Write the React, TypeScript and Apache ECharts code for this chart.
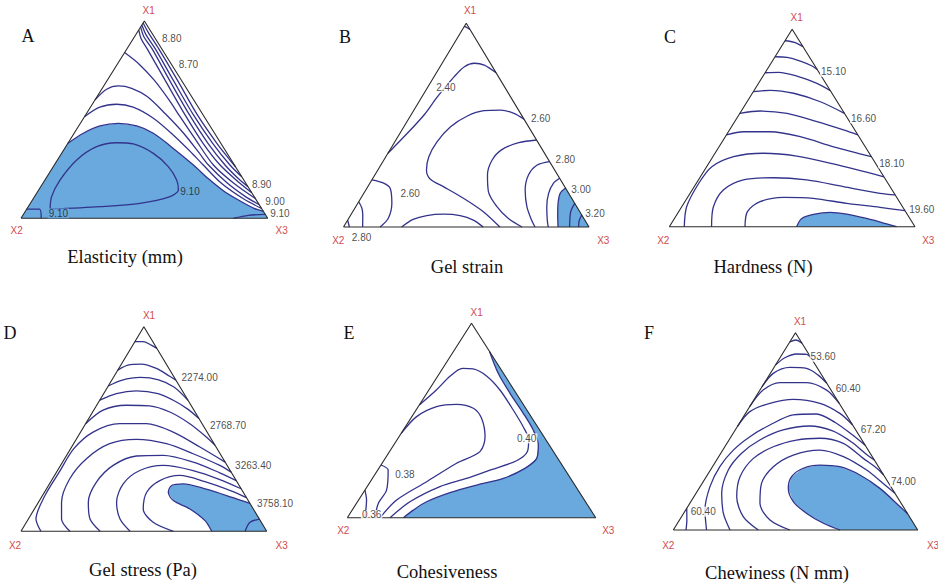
import React, { useEffect, useRef } from "react";
import * as echarts from "echarts";

// Every point is a mixture composition [X1 %, X3 %]; X2 = 100 - X1 - X3.
type P = [number, number];
type Lab = [string, number, number, number?]; // text, X1, X3, on blue (1)

const LETTERS = ["A", "B", "C", "D", "E", "F"];
const TITLES = ["Elasticity (mm)", "Gel strain", "Hardness (N)", "Gel stress (Pa)", "Cohesiveness", "Chewiness (N mm)"];
const VERTEX_NAMES = ["X1", "X2", "X3"];
const TRIANGLE: P[] = [[0, 0], [0, 100], [100, 0], [0, 0]];

// ---------- A: Elasticity ----------
const A_lines: P[][] = [
  [[99, 0], [94, 4.7], [86, 12.8], [70, 28.4], [52, 45.7], [38, 60.4], [30, 69.4], [26, 74]],
  [[98, 0], [93, 4.2], [86, 11.4], [70, 26.7], [52, 44.1], [38, 58.7], [27, 71.2], [21, 79]],
  [[97, 0], [92, 3.8], [86, 10.1], [70, 25.2], [52, 42.5], [38, 56.8], [27, 69.2], [20, 78.2], [16, 84]],
  [[95.5, 0], [91, 3.2], [86, 8.1], [70, 23.4], [52, 40.7], [38, 54.8], [27, 67.2], [18, 79.5], [13, 87]],
  [[84, 0], [78, 9], [70, 19], [60, 30], [52, 38.2], [40, 50.7], [27, 64.5], [18, 77], [10, 90]],
  [[60, 0], [65.4, 2], [67.1, 5.9], [65.9, 11.9], [61.7, 20.3], [53, 32], [43, 44.5], [33, 55.8], [27, 62.5], [18, 74.5], [11, 85.5], [7, 93]],
  [[51.5, 0], [56.3, 3.8], [57.8, 9.9], [56.3, 17.3], [50.7, 28.3], [42.2, 40.6], [33, 52.8], [27, 60.4], [18, 72], [10, 85], [5, 95]],
  [[4.6, 9.5], [5.9, 29.1], [7.6, 44.4], [11, 54.9], [14.4, 56.6], [19.4, 53.4], [26.2, 46.6], [32.9, 37.2], [37.7, 26.7], [38.3, 19.6], [36.3, 12.5], [29.6, 7.8], [19.4, 6.1], [11, 6.9], [4.6, 9.5]],
  [[4.6, 0], [4.6, 5.15], [0, 8.2]],
  [[0, 86.1], [1.5, 91.4], [2, 98]],
];
const A_fill: P[] = [[38, 0], [43.1, 3.7], [46.8, 8.6], [48.1, 15.4], [46.8, 23.5], [43.1, 32.1], [36.3, 42.7], [27, 56.4], [20, 66], [14, 75], [9, 84], [5, 92], [3.5, 96.5]];
const A_fillClose: P[] = [[0, 100], [0, 0]];
const A_labels: Lab[] = [["8.80", 91.2, 15.5], ["8.70", 77.7, 29.0], ["8.90", 16.9, 89.1], ["9.00", 8.4, 98.75], ["9.10", 2.5, 103.7], ["9.10", 13.5, 61.75, 1], ["9.10", 2.5, 13.9, 1]];

// ---------- B: Gel strain ----------
const B_lines: P[][] = [
  [[98.5, 0], [97.8, 1.5], [97, 3]],
  [[36.2, 0], [46.0, 3.0], [55.0, 5.3], [64.0, 6.3], [73.8, 8.2], [78.7, 9.9], [80.4, 13.1], [79.5, 17.6], [75.7, 24.3]],
  [[52.9, 47.1], [55.8, 41.5], [57.4, 35.4], [57.1, 28.7], [54.5, 23.2], [49.2, 19.0], [41.9, 17.2], [34.5, 17.5], [28.0, 19.8], [23.4, 23.7], [19.8, 30.8], [14.1, 41.8], [7.5, 53.2], [0, 63.7]],
  [[42.7, 57.3], [41.4, 50.7], [38.1, 45.6], [32.9, 44.1], [25.5, 45.9], [17.3, 50.4], [10.0, 57.5], [4.3, 64.9], [0, 72.7]],
  [[32.1, 67.9], [30.4, 63.7], [25.5, 62.6], [18.2, 64.9], [10.0, 69.7], [3.4, 74.9], [0, 78.0]],
  [[23.9, 76.1], [21.5, 74.8], [16.5, 75.3], [10.0, 77.8], [3.4, 81.3], [0, 83.4]],
  [[11.6, 88.4], [7.5, 88.8], [0, 92.1]],
  [[5.9, 94.1], [2.6, 94.6], [0, 95.8]],
  [[23.1, 0], [21.5, 5.6], [19.0, 9.5], [11.6, 13.9], [4.3, 16.1], [0, 14.9]],
  [[12.4, 0], [9.2, 2.9], [5.9, 4.9], [0, 7.8]],
  [[3.4, 0], [0, 2.4]],
  [[0, 23.7], [3.7, 26.5], [5.6, 31.1], [6.3, 37.5], [5.6, 44.7], [3.4, 51.2], [0, 56.9]],
];
const B_fill: P[] = [[19.1, 80.9], [16.5, 80.0], [11.6, 81.6], [5.9, 84.3], [0, 87.4]];
const B_fillClose: P[] = [[0, 100]];
const B_labels: Lab[] = [["2.40", 68.6, 7.4], ["2.60", 53.4, 53.6], ["2.80", 32.9, 73.9], ["3.00", 18.5, 87.5], ["3.20", 6.7, 99.1], ["2.60", 16.5, 18.9], ["2.80", -5.1, 9.9]];

// ---------- C: Hardness ----------
const C_lines: P[][] = [
  [[94.2, 0], [93.4, 4.2], [91.2, 8.8]],
  [[86.1, 0], [85.8, 5.0], [83.9, 11.4], [81.4, 17.4], [79.7, 20.3]],
  [[78.0, 0], [78.2, 5.4], [76.3, 13.8], [72.6, 23.8], [68.9, 31.1]],
  [[68.4, 0], [69.1, 6.6], [67.6, 16.8], [63.3, 29.8], [57.4, 42.6]],
  [[57.4, 0], [58.6, 7.7], [57.4, 19.2], [53.2, 33.5], [49.0, 46.4], [46.5, 53.5]],
  [[46.5, 0], [48.1, 6.2], [48.1, 17.0], [45.6, 30.5], [40.5, 46.6], [35.5, 64.5]],
  [[0, 6.1], [10.1, 2.0], [22.0, 1.0], [30.4, 2.1], [35.5, 8.4], [37.2, 19.7], [35.8, 34.0], [31.8, 50.9], [25.3, 74.7]],
  [[0, 17.2], [10.1, 12.9], [18.6, 12.7], [23.7, 18.3], [24.8, 30.0], [23.7, 44.1], [20.3, 60.7], [16.9, 77.3], [16.1, 83.9]],
  [[0, 30.8], [7.6, 28.0], [12.7, 30.6], [14.9, 39.0], [14.4, 51.4], [11.8, 66.3], [9.8, 80.9], [8.1, 91.9]],
];
const C_fill: P[] = [[0, 51.8], [4.2, 51.8], [6.3, 55.5], [7.3, 61.8], [6.4, 69.0], [4.2, 78.2], [1.4, 87.8], [0, 92.5]];
const C_fillClose: P[] = [];
const C_labels: Lab[] = [["15.10", 78.5, 27.6], ["16.60", 54.9, 51.6], ["18.10", 32.1, 74.5], ["19.60", 8.5, 98.5]];

// ---------- D: Gel stress ----------
const D_lines: P[][] = [
  [[92.7, 0], [92.7, 3.3], [91.0, 7.5], [89.4, 10.6]],
  [[78.8, 0], [81.2, 2.9], [81.7, 8.1], [79.6, 15.3], [75.8, 22.6], [73.9, 26.1]],
  [[71, 0], [73.8, 4], [75.2, 11], [74, 19], [70.5, 27], [64, 36]],
  [[64.1, 0], [67.3, 5.2], [68.6, 12.6], [67.3, 22.1], [63.7, 30.7], [59.6, 38.2], [55.1, 44.9]],
  [[52.6, 0], [59.2, 3.8], [61.6, 12.1], [61.3, 21.7], [58.3, 31.4], [52.6, 42.4], [46.1, 52.4], [42.0, 58.0]],
  [[0, 8.1], [6.0, 3.1], [17.5, 1.0], [28.9, 1.1], [40.4, 1.3], [48.5, 5.1], [52.6, 13.9], [52.6, 24.7], [48.5, 37.7], [41.2, 52.2], [33.8, 66.2]],
  [[0, 19.9], [6.0, 13.5], [14.2, 9.4], [25.7, 7.0], [35.5, 8.9], [42.8, 14.7], [44.9, 24.5], [42.8, 37.8], [37.9, 51.1], [32.2, 64.8], [28.9, 71.1]],
  [[0, 32.2], [6.0, 25.1], [14.2, 20.3], [24.0, 18.7], [32.2, 21.4], [36.8, 28.6], [37.1, 39.3], [33.8, 53.2], [28.6, 66.6], [24.8, 75.2]],
  [[0, 44.4], [6.0, 37.3], [14.2, 31.8], [23.2, 30.0], [29.7, 33.5], [32.2, 41.8], [29.7, 55.2], [25.3, 68.3], [20.8, 79.2]],
  [[0, 62.0], [4.4, 51.6], [10.9, 44.3], [19.1, 41.6], [24.8, 44.1], [27.3, 51.0], [24.3, 62.7], [19.8, 75.6], [16.5, 83.5]],
  [[0, 91.2], [4.4, 91.0], [6.0, 94.0]],
];
const D_fill: P[] = [[13.6, 86.4], [16.6, 77.6], [20.6, 65.1], [23.2, 54.4], [22.4, 50.1], [19.1, 50.4], [15.0, 54.5], [10.9, 63.3], [5.2, 72.3], [0, 77.6]];
const D_fillClose: P[] = [[0, 100]];
const D_labels: Lab[] = [["2274.00", 75.0, 35.2], ["2768.70", 51.5, 58.5], ["3263.40", 32.2, 78.4], ["3758.10", 13.4, 96.7]];

// ---------- E: Cohesiveness ----------
const E_lines: P[][] = [
  [[58.0, 0], [65.7, 3], [72.9, 5], [76.8, 8], [76.5, 12.4], [72.9, 19.6], [65.7, 28.6], [55.4, 39.1], [46.8, 47.4], [40.0, 53.0], [34.0, 55.5], [29.3, 53.5], [24.5, 45.2], [20.2, 37.9], [16.0, 29.3], [8.2, 21.1], [0, 17.2]],
  [[43.4, 0], [52.0, 1.9], [57.1, 7.4], [58.3, 14.8], [56.3, 22.6], [51.1, 28.5], [41.7, 34.6], [34.0, 36.4], [28.0, 30.0], [18.5, 22.7], [9.1, 15.3], [0, 13.2]],
  [[27.1, 0], [24.5, 4.2], [14.2, 8.7], [7.4, 8.8], [0, 11.1]],
  [[14.2, 0], [9.1, 3.2], [0, 7.1]],
];
const E_fill: P[] = [[85.4, 14.6], [74.3, 23.6], [64.0, 33.5], [53.7, 44.0], [45.1, 52.3], [37.4, 58.2], [30.5, 61.0], [25.4, 58.8], [20.2, 52.7], [16.8, 43.7], [12.9, 34.9], [8.2, 27.8], [3.9, 24.6], [0, 22.6]];
const E_fillClose: P[] = [[0, 100]];
const E_labels: Lab[] = [["0.40", 40.8, 51.8], ["0.38", 22.0, 12.2], ["0.36", 1.4, 9.1]];

// ---------- F: Chewiness ----------
const F_lines: P[][] = [
  [[95.4, 0], [96.3, 2.0], [94.6, 5.4]],
  [[83.6, 0], [87.3, 2.0], [89.2, 5.8], [89.0, 10.0], [87.0, 13.0]],
  [[72.6, 0], [79.4, 1.2], [82.4, 6.5], [81.9, 13.6], [78.5, 20.0], [74.3, 25.7]],
  [[62.5, 0], [70.9, 1.3], [74.7, 6.3], [74.7, 17.2], [70.9, 27.3], [64.2, 35.8]],
  [[52.4, 0], [60.0, 1.3], [64.2, 7.4], [66.2, 16.0], [64.2, 27.9], [59.1, 38.6], [53.2, 46.8]],
  [[0, 13.6], [10.1, 7.9], [22.0, 4.0], [32.1, 3.0], [40.5, 4.3], [47.3, 7.7], [53.2, 12.9], [58.3, 19.9], [58.8, 29.2], [54.5, 39.0], [48.5, 48.7], [43, 57]],
  [[0, 23.2], [8.4, 16.3], [18.6, 10.5], [30.4, 7.3], [38.9, 8.5], [45.6, 12.6], [50.7, 19.6], [52.7, 29.5], [50.2, 40.1], [44.5, 50.8], [38.8, 59.2], [35.5, 64.5]],
  [[0, 34.8], [6.8, 25.2], [16.9, 17.5], [27.0, 13.8], [36.3, 14.6], [42.2, 19.8], [45.6, 27.6], [46.5, 36.7], [43.9, 47.6], [36.3, 59.6], [31.3, 67.6], [27.9, 72.1]],
  [[0, 47.7], [5.1, 37.0], [13.5, 28.7], [23.6, 24.3], [32.1, 24.9], [38.0, 30.1], [40.5, 39.7], [37.2, 51.0], [30.4, 63.9], [23.6, 74.1], [18.6, 81.4]],
  [[0, 5.2], [5.1, 3.0], [11.0, 0]],
];
const F_fill: P[] = [[0, 68.2], [3.4, 59.7], [8.4, 50.4], [14.4, 41.9], [21.1, 36.5], [27.0, 34.9], [31.3, 37.5], [32.9, 43.6], [32.1, 52.1], [27.9, 62.4], [21.1, 74.0], [11.8, 86.9], [8.4, 91.6]];
const F_fillClose: P[] = [[0, 100]];
const F_labels: Lab[] = [["53.60", 87.8, 17.4], ["60.40", 71.5, 35.8], ["67.20", 50.7, 56.5], ["74.00", 24.5, 81.9], ["60.40", 9.3, 7.6]];

const PANEL_DATA = [
  { lines: A_lines, fill: A_fill, close: A_fillClose, labels: A_labels },
  { lines: B_lines, fill: B_fill, close: B_fillClose, labels: B_labels },
  { lines: C_lines, fill: C_fill, close: C_fillClose, labels: C_labels },
  { lines: D_lines, fill: D_fill, close: D_fillClose, labels: D_labels },
  { lines: E_lines, fill: E_fill, close: E_fillClose, labels: E_labels },
  { lines: F_lines, fill: F_fill, close: F_fillClose, labels: F_labels },
];

// Layout (pixels): triangle bounding boxes and annotation positions
const LAYOUT = [
  { grid: { left: 21, top: 21, width: 246.7, height: 197.3 }, letter: [28, 36], title: [125, 257], vertex: [[148.7, 10], [16.7, 230], [281.7, 230]] },
  { grid: { left: 343.5, top: 23.3, width: 245.5, height: 203.7 }, letter: [345, 37], title: [467, 267], vertex: [[470, 10.7], [338.3, 240.7], [603.3, 240.7]] },
  { grid: { left: 669.3, top: 29.3, width: 245.7, height: 197.4 }, letter: [670, 37], title: [763, 267], vertex: [[796.7, 17.3], [663.3, 240], [928.3, 240]] },
  { grid: { left: 21, top: 326.7, width: 245.7, height: 204.6 }, letter: [10, 333], title: [143, 570], vertex: [[149, 315], [15, 545], [281.7, 545]] },
  { grid: { left: 347.3, top: 323.3, width: 248.4, height: 194.4 }, letter: [349, 333], title: [447, 572], vertex: [[476.7, 312.7], [343.3, 530], [608.3, 530]] },
  { grid: { left: 673.3, top: 332.7, width: 244.4, height: 197.3 }, letter: [649, 333], title: [777, 573], vertex: [[800, 321.7], [668.3, 545], [933, 545]] },
];

const BLUE = "#69a9dd";
const LINE = "#33338c";

const toUV = (p: P): [number, number] => [p[1] / 100 + p[0] / 200, p[0] / 100];

function buildOption() {
  const grid: any[] = [];
  const xAxis: any[] = [];
  const yAxis: any[] = [];
  const series: any[] = [];
  const texts: any[] = [];

  PANEL_DATA.forEach((pd, i) => {
    const lay = LAYOUT[i];
    grid.push({ ...lay.grid, containLabel: false, show: false });
    xAxis.push({ type: "value", gridIndex: i, min: 0, max: 1, show: false });
    yAxis.push({ type: "value", gridIndex: i, min: 0, max: 1, show: false });
    const ax = { xAxisIndex: i, yAxisIndex: i };

    const poly = pd.fill.concat(pd.close).map(toUV);
    series.push({
      type: "custom", ...ax, silent: true, z: 1, data: [[0.5, 0.5]],
      renderItem: (_p: any, api: any) => ({
        type: "polygon",
        shape: { points: poly.map((q) => api.coord(q)) },
        style: { fill: BLUE },
      }),
    });

    [...pd.lines, pd.fill].forEach((l) => {
      series.push({
        type: "line", ...ax, data: l.map(toUV), smooth: 0.3, symbol: "none", showSymbol: false,
        silent: true, clip: false, z: 2, lineStyle: { color: LINE, width: 1.3 },
      });
    });

    series.push({
      type: "line", ...ax, data: TRIANGLE.map(toUV), symbol: "none", showSymbol: false,
      silent: true, clip: false, z: 3, lineStyle: { color: "#2a2a2a", width: 1.1 },
    });

    series.push({
      type: "scatter", ...ax, symbol: "circle", symbolSize: 1, itemStyle: { color: "transparent" },
      silent: true, clip: false, z: 4,
      data: pd.labels.map(([t, a, b, blue]) => ({
        name: t, value: toUV([a, b]),
        label: { backgroundColor: blue ? BLUE : "#ffffff" },
      })),
      label: {
        show: true, position: "inside", formatter: "{b}", color: "#1a1a1a",
        fontSize: 10, fontFamily: "Liberation Sans", padding: [0, 1],
      },
    });

    texts.push({
      type: "text", x: lay.letter[0], y: lay.letter[1], silent: true,
      style: { text: LETTERS[i], fill: "#111", fontSize: 18, fontFamily: "Liberation Serif", align: "center", verticalAlign: "middle", textAlign: "center", textVerticalAlign: "middle" },
    });
    texts.push({
      type: "text", x: lay.title[0], y: lay.title[1], silent: true,
      style: { text: TITLES[i], fill: "#111", fontSize: 18.5, fontFamily: "Liberation Serif", align: "center", verticalAlign: "middle", textAlign: "center", textVerticalAlign: "middle" },
    });
    lay.vertex.forEach((v, k) => {
      texts.push({
        type: "text", x: v[0], y: v[1], silent: true,
        style: { text: VERTEX_NAMES[k], fill: "#d24a4f", fontSize: 10, fontFamily: "Liberation Sans", align: "center", verticalAlign: "middle", textAlign: "center", textVerticalAlign: "middle" },
      });
    });
  });

  return {
    animation: false,
    backgroundColor: "#ffffff",
    grid, xAxis, yAxis, series,
    graphic: { elements: texts },
  };
}

export default function App() {
  const ref = useRef<HTMLDivElement>(null);
  useEffect(() => {
    if (!ref.current) return;
    const chart = echarts.init(ref.current, undefined, { renderer: "svg" });
    chart.setOption(buildOption() as any);
    return () => chart.dispose();
  }, []);
  return (
    <div
      ref={ref}
      style={{ position: "fixed", left: 0, top: 0, width: 938, height: 587, background: "#fff" }}
    />
  );
}
